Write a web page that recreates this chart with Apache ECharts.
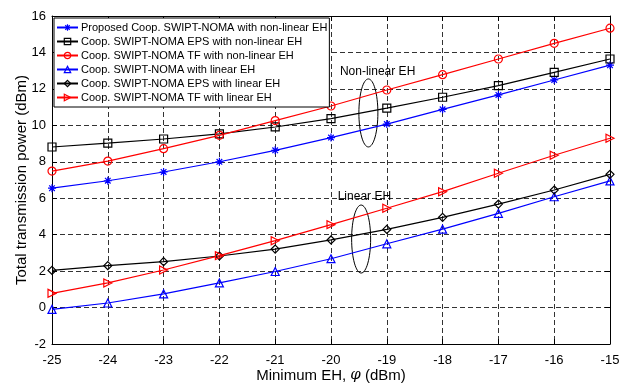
<!DOCTYPE html>
<html>
<head>
<meta charset="utf-8">
<script src="https://cdn.jsdelivr.net/npm/echarts@6/dist/echarts.min.js"></script>
<style>
html, body { margin: 0; padding: 0; background: #fff; }
#main { width: 625px; height: 385px; }
</style>
</head>
<body>
<div id="main"></div>
<script>
var myChart = echarts.init(document.getElementById("main"));

var xValues = [-25, -24, -23, -22, -21, -20, -19, -18, -17, -16, -15];
var seriesNames = [
    "Proposed Coop. SWIPT-NOMA with non-linear EH",
    "Coop. SWIPT-NOMA EPS with non-linear EH",
    "Coop. SWIPT-NOMA TF with non-linear EH",
    "Coop. SWIPT-NOMA with linear EH",
    "Coop. SWIPT-NOMA EPS with linear EH",
    "Coop. SWIPT-NOMA TF with linear EH"
];
var proposedNL = [6.55, 6.96, 7.44, 8.0, 8.63, 9.33, 10.07, 10.88, 11.67, 12.49, 13.30];
var epsNL = [8.81, 9.02, 9.25, 9.53, 9.91, 10.37, 10.94, 11.54, 12.18, 12.91, 13.64];
var tfNL = [7.49, 8.04, 8.72, 9.45, 10.26, 11.06, 11.94, 12.78, 13.64, 14.50, 15.33];
var proposedL = [-0.1, 0.25, 0.75, 1.35, 1.98, 2.68, 3.5, 4.3, 5.17, 6.08, 6.95];
var epsL = [2.04, 2.3, 2.52, 2.83, 3.21, 3.71, 4.29, 4.95, 5.68, 6.45, 7.31];
var tfL = [0.78, 1.35, 2.06, 2.85, 3.67, 4.55, 5.45, 6.36, 7.37, 8.36, 9.29];

var font = "Liberation Sans, Arial, Helvetica, sans-serif";
var star = "path://M5,0L5,10M0,5L10,5M1.5,1.5L8.5,8.5M8.5,1.5L1.5,8.5";

function makeSeries(name, values, color, symbol, rotate) {
    return {
        name: name,
        type: "line",
        data: xValues.map(function (x, i) { return [x, values[i]]; }),
        symbol: symbol,
        symbolSize: 8,
        symbolRotate: rotate || 0,
        showAllSymbol: true,
        lineStyle: { color: color, width: 1.2 },
        itemStyle: { color: "transparent", borderColor: color, borderWidth: 1.2 },
        emphasis: { disabled: true },
        animation: false
    };
}

var option = {
    backgroundColor: "#fff",
    grid: { left: 52, right: 15, top: 16, bottom: 41, outerBoundsMode: "none", containLabel: false },
    legend: {
        orient: "vertical",
        left: 54,
        top: 18,
        padding: [4, 2, 4, 2],
        itemGap: 3,
        itemWidth: 21,
        itemHeight: 8,
        itemStyle: { color: "transparent", borderWidth: 1.2 },
        backgroundColor: "#fff",
        borderColor: "#000",
        borderWidth: 1,
        borderRadius: 0,
        textStyle: { fontFamily: font, fontSize: 11, color: "#000", padding: [0, 0, 0, -2] },
        data: seriesNames
    },
    xAxis: [{
        type: "value",
        min: -25, max: -15, interval: 1,
        name: "Minimum EH, {i|φ} (dBm)",
        nameLocation: "middle",
        nameGap: 24,
        nameMoveOverlap: false,
        nameTextStyle: {
            fontFamily: font, fontSize: 15, color: "#000",
            rich: { i: { fontFamily: "DejaVu Serif, serif", fontStyle: "italic", fontSize: 15, color: "#000" } }
        },
        axisLine: { onZero: false, lineStyle: { color: "#000", width: 1 } },
        axisTick: { inside: true, length: 5, lineStyle: { color: "#000" } },
        axisLabel: { fontFamily: font, fontSize: 13, color: "#000", margin: 10 },
        splitLine: { show: true, lineStyle: { color: "#333", type: [5, 3], width: 1 } }
    }, {
        type: "value",
        position: "top",
        min: -25, max: -15, interval: 1,
        axisLine: { onZero: false, lineStyle: { color: "#000" } },
        axisTick: { inside: true, length: 5, lineStyle: { color: "#000" } },
        axisLabel: { show: false },
        splitLine: { show: false }
    }],
    yAxis: [{
        type: "value",
        min: -2, max: 16, interval: 2,
        name: "Total transmission power (dBm)",
        nameLocation: "middle",
        nameGap: 23,
        nameMoveOverlap: false,
        nameTextStyle: { fontFamily: font, fontSize: 15, color: "#000" },
        axisLine: { show: true, onZero: false, lineStyle: { color: "#000", width: 1 } },
        axisTick: { show: true, inside: true, length: 5, lineStyle: { color: "#000" } },
        axisLabel: { fontFamily: font, fontSize: 13, color: "#000", margin: 6 },
        splitLine: { show: true, lineStyle: { color: "#333", type: [5, 3], width: 1 } }
    }, {
        type: "value",
        position: "right",
        min: -2, max: 16, interval: 2,
        axisLine: { show: true, onZero: false, lineStyle: { color: "#000" } },
        axisTick: { show: true, inside: true, length: 5, lineStyle: { color: "#000" } },
        axisLabel: { show: false },
        splitLine: { show: false }
    }],
    series: [
        makeSeries(seriesNames[0], proposedNL, "#0000ff", star),
        makeSeries(seriesNames[1], epsNL, "#000000", "rect"),
        makeSeries(seriesNames[2], tfNL, "#ff0000", "circle"),
        makeSeries(seriesNames[3], proposedL, "#0000ff", "triangle"),
        makeSeries(seriesNames[4], epsL, "#000000", "diamond"),
        makeSeries(seriesNames[5], tfL, "#ff0000", "triangle", -90)
    ]
};
myChart.setOption(option);

// annotation text + ellipse, placed in data coordinates
var notes = [
    { text: "Non-linear EH", tx: -19.84, ty: 12.93, ex: -19.33, ey: 10.68 },
    { text: "Linear EH", tx: -19.88, ty: 6.07, ex: -19.46, ey: 3.76 }
];
var graphic = [];
notes.forEach(function (n) {
    var t = myChart.convertToPixel({ gridIndex: 0 }, [n.tx, n.ty]);
    var e = myChart.convertToPixel({ gridIndex: 0 }, [n.ex, n.ey]);
    graphic.push({
        type: "text",
        x: t[0], y: t[1],
        style: { text: n.text, fill: "#000", fontFamily: font, fontSize: 12, verticalAlign: "middle", align: "left" }
    });
    graphic.push({
        type: "ellipse",
        shape: { cx: e[0], cy: e[1], rx: 9.5, ry: 34 },
        style: { fill: "none", stroke: "#000", lineWidth: 1 }
    });
});
myChart.setOption({ graphic: graphic });
</script>
</body>
</html>
